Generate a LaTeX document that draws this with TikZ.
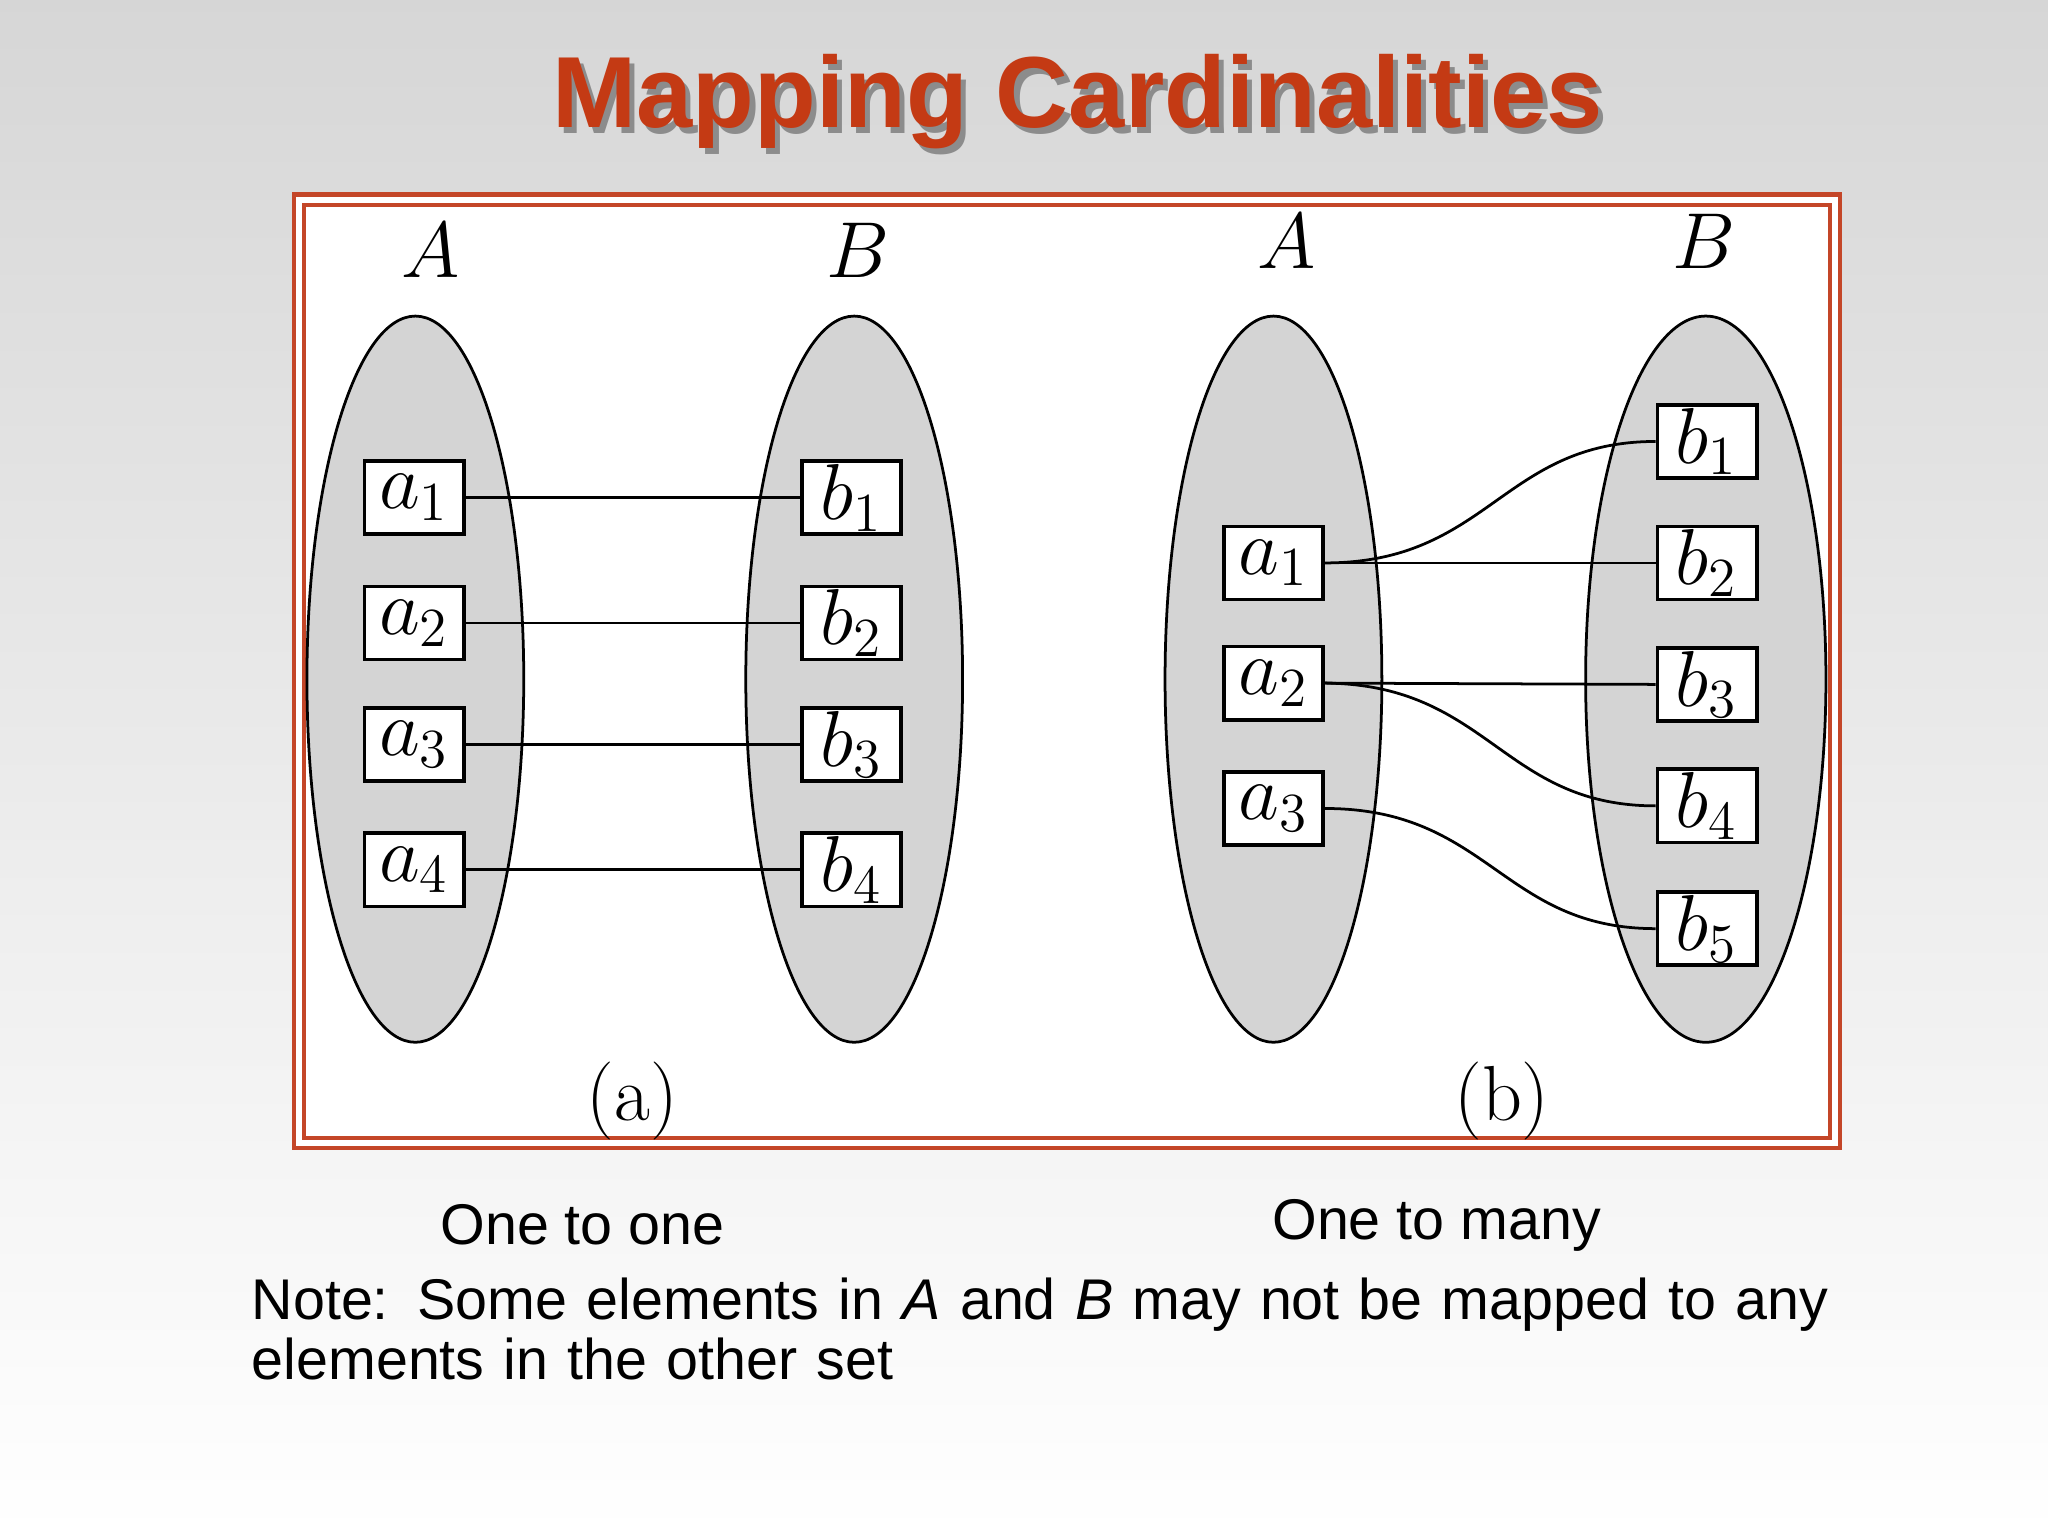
\documentclass[tikz,border=0pt]{standalone}
\usepackage{fontspec}
\setsansfont{Liberation Sans}
\usepackage{amsmath}
\begin{document}
\begin{tikzpicture}[x=0.01cm,y=-0.01cm,
  el/.style={draw=black,fill=black!17,line width=0.6pt},
  bx/.style={draw=black,fill=white,line width=0.8pt,minimum width=76*0.01cm,minimum height=56*0.01cm,inner sep=0pt,font=\fontsize{17}{20}\selectfont},
  ln/.style={line width=0.6pt},
  txt/.style={font=\sffamily\fontsize{12.5}{15}\selectfont}]
\shade[top color=black!16,bottom color=white] (0,0) rectangle (1568,1176);
\useasboundingbox (0,0) rectangle (1568,1176);
\node[text=black!45,font=\sffamily\bfseries\fontsize{22}{26}\selectfont] at (829,82) {Mapping Cardinalities};
\node (title)[text={rgb,255:red,196;green,58;blue,20},font=\sffamily\bfseries\fontsize{22}{26}\selectfont] at (825,78) {Mapping Cardinalities};
\draw[fill=white,draw={rgb,255:red,196;green,70;blue,40},line width=1pt,double=white,double distance=1.2pt] (229,153) rectangle (1405,875);
% ellipses
\draw[el] (318,520) ellipse [x radius=83,y radius=278];
\draw[el] (654,520) ellipse [x radius=83,y radius=278];
\draw[el] (975,520) ellipse [x radius=83,y radius=278];
\draw[el] (1306,520) ellipse [x radius=92,y radius=278];
\node[font=\fontsize{16}{19}\selectfont\itshape] (LA) at (330,192) {$A$};
\node[font=\fontsize{16}{19}\selectfont\itshape] (LB) at (657,192) {$B$};
\node[font=\fontsize{16}{19}\selectfont\itshape] (RA) at (985,185) {$A$};
\node[font=\fontsize{16}{19}\selectfont\itshape] (RB) at (1305,185) {$B$};
% part a
\foreach \i/\y in {1/381,2/477,3/570,4/666}{
  \node[bx] (la\i) at (317,\y) {$a_\i$};
  \node[bx] (lb\i) at (652,\y) {$b_\i$};
  \draw[ln] (la\i) -- (lb\i);
}
% part b
\foreach \i/\y in {1/431,2/523,3/619}{\node[bx] (ra\i) at (975,\y) {$a_\i$};}
\foreach \i/\y in {1/338,2/431,3/524,4/617,5/711}{\node[bx] (rb\i) at (1307,\y) {$b_\i$};}
\draw[ln] (ra1.east) .. controls (1140,431) and (1150,338) .. (rb1.west);
\draw[ln] (ra1) -- (rb2);
\draw[ln] (ra2.east) -- (rb3.west);
\draw[ln] (ra2.east) .. controls (1140,524) and (1150,617) .. (rb4.west);
\draw[ln] (ra3.east) .. controls (1140,619) and (1150,711) .. (rb5.west);
\node[font=\fontsize{17}{20}\selectfont] (pa) at (484,843) {(a)};
\node[font=\fontsize{17}{20}\selectfont] (pb) at (1150,843) {(b)};
\node[txt] (t1) at (446,938) {One to one};
\node[txt] (t2) at (1100,938) {One to many};
\node[txt,anchor=north west,align=left,text width=1250*0.01cm,inner sep=0pt] (note) at (192,978) {Note: Some elements in \textit{A} and \textit{B} may not be mapped to any\\[-2pt]elements in the other set};
\end{tikzpicture}
\end{document}
